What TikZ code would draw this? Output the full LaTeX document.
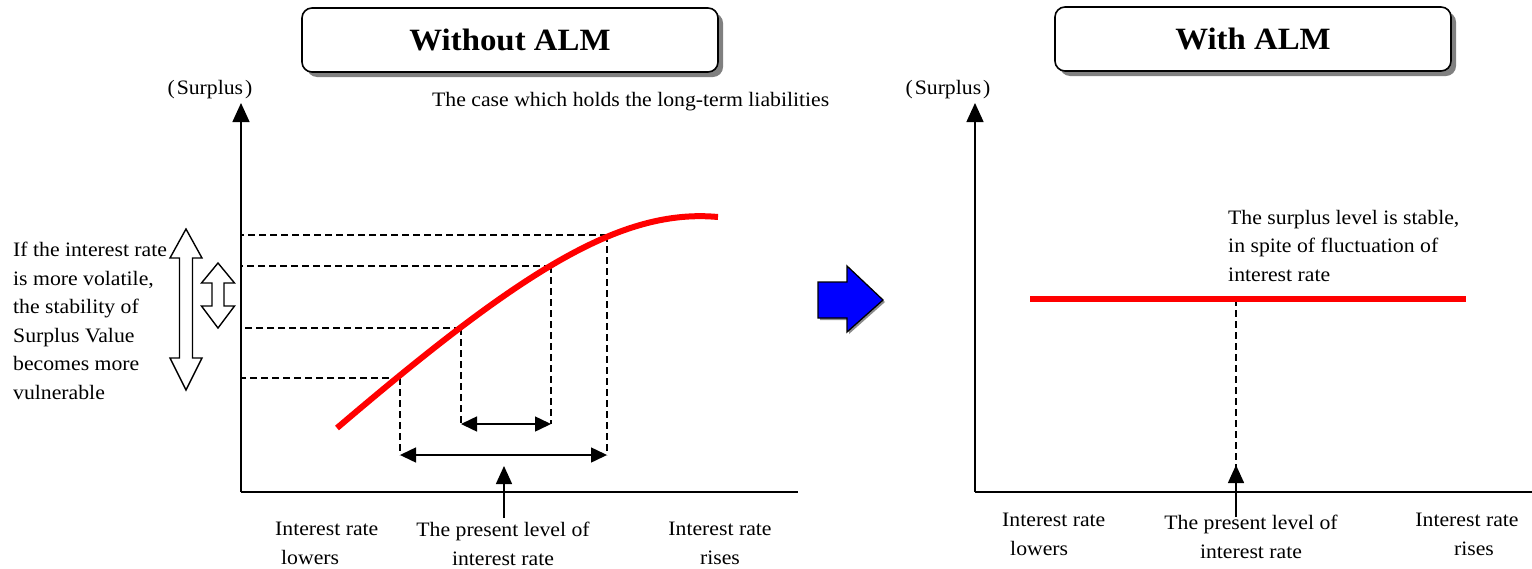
\documentclass[tikz,border=0pt]{standalone}
\usepackage{fontspec}
\setmainfont[FakeStretch=1.06]{Liberation Serif}
\usetikzlibrary{arrows.meta,shadows}

\tikzset{
  axis/.style={line width=1.5pt, -{Triangle[length=19pt,width=17pt]}},
  guide/.style={line width=1.3pt, dash pattern=on 7pt off 4pt},
  span/.style={line width=1.5pt, {Triangle[length=16pt,width=15pt]}-{Triangle[length=16pt,width=15pt]}},
  pointer/.style={line width=1.5pt, -{Triangle[length=18pt,width=16pt]}},
  surplus/.style={line width=6pt, red},
  hollow/.style={draw, line width=1.4pt, fill=white, line join=miter},
  titlebox/.style={draw, line width=1.6pt, rounded corners=10pt, fill=white,
    minimum height=64pt, font=\fontsize{31}{36}\selectfont\bfseries,
    drop shadow={shadow xshift=5pt, shadow yshift=-5pt, fill=black!50, opacity=1}},
  label/.style={font=\fontsize{20.5}{28.5}\selectfont, inner sep=0pt},
}

\begin{document}
\begin{tikzpicture}[x=1pt, y=-1pt]
\useasboundingbox (0,0) rectangle (1532,568);

% ---------- titles ----------
\node[titlebox, minimum width=416pt] (titleA) at (510,40) {Without ALM};
\node[titlebox, minimum width=396pt] (titleB) at (1253,39) {With ALM};

% ---------- left chart: axes ----------
\coordinate (oA) at (241,492);
\coordinate (yA) at (241,103);
\coordinate (xA) at (798,492);
\draw[axis] (oA) -- (yA);
\draw[line width=1.5pt] (oA) -- (xA);
\node[label, anchor=base] (surA) at (210,94) {(\hspace{2pt}Surplus\hspace{2pt})};
\node[label, anchor=base west] (caseA) at (432,106) {The case which holds the long-term liabilities};

% surplus curve and the four marked points on it
\coordinate (cStart) at (337,428);
\coordinate (cEnd) at (718,217);
\coordinate (p1) at (400,378);
\coordinate (p2) at (461,328);
\coordinate (p3) at (551,266);
\coordinate (p4) at (607,235);

% guide lines to the axis and down to the spans
\foreach \p in {p1,p2,p3,p4} \draw[guide] (\p) -- (oA |- \p);
\coordinate (lowSpan) at (0,455);
\coordinate (highSpan) at (0,424);
\coordinate (s1) at (p1 |- lowSpan);
\coordinate (s4) at (p4 |- lowSpan);
\coordinate (s2) at (p2 |- highSpan);
\coordinate (s3) at (p3 |- highSpan);
\draw[guide] (p1) -- (s1);
\draw[guide] (p4) -- (s4);
\draw[guide] (p2) -- (s2);
\draw[guide] (p3) -- (s3);

\draw[surplus] (cStart) .. controls (520,272) and (620,208) .. (cEnd);

% interest-rate spans
\draw[span] (s2) -- (s3);
\draw[span] (s1) -- (s4);
\coordinate (nowA) at (504,518);
\coordinate (nowAtip) at (504,466);
\draw[pointer] (nowA) -- (nowAtip);

% volatility arrows (hollow double arrows)
\draw[hollow] (186,229) -- (202,258) -- (192.5,258) -- (192.5,358) -- (202,358)
  -- (186,390) -- (170,358) -- (179.5,358) -- (179.5,258) -- (170,258) -- cycle;
\draw[hollow] (218,263) -- (234.5,283) -- (224,283) -- (224,306) -- (234.5,306)
  -- (218,328) -- (201.5,306) -- (212,306) -- (212,283) -- (201.5,283) -- cycle;

\node[label, anchor=north west, align=left] (noteA) at (13,242)
  {If the interest rate\\is more volatile,\\the stability of\\Surplus Value\\becomes more\\vulnerable};

% axis labels, left
\node[label, anchor=north west, align=left] (lowA) at (275,522) {Interest rate\\\hspace{6pt}lowers};
\node[label, anchor=north, align=center] (presA) at (503,522) {The present level of\\interest rate\hspace{14pt}};
\node[label, anchor=north, align=center] (riseA) at (720,522) {Interest rate\\rises\hspace{6pt}};

% ---------- transition arrow ----------
\fill[black!45] (820,284) -- (849,284) -- (849,268) -- (885,302) -- (849,334) -- (849,320) -- (820,320) -- cycle;
\draw[line width=1.3pt, fill={rgb,255:red,0;green,0;blue,255}, line join=miter]
  (818,282) -- (847,282) -- (847,266) -- (883,300) -- (847,332) -- (847,318) -- (818,318) -- cycle;

% ---------- right chart ----------
\coordinate (oB) at (975,492);
\coordinate (yB) at (975,103);
\coordinate (xB) at (1532,492);
\draw[axis] (oB) -- (yB);
\draw[line width=1.5pt] (oB) -- (xB);
\node[label, anchor=base] (surB) at (948,94) {(\hspace{2pt}Surplus\hspace{2pt})};

\coordinate (fl) at (1030,299);
\coordinate (fr) at (1466,299);
\coordinate (pB) at (1236,299);
\coordinate (sB) at (1236,470);
\draw[guide] (pB) -- (sB);
\draw[surplus] (fl) -- (fr);
\coordinate (nowB) at (1236,517);
\coordinate (nowBtip) at (1236,465);
\draw[pointer] (nowB) -- (nowBtip);

\node[label, anchor=north west, align=left] (noteB) at (1228,210)
  {The surplus level is stable,\\in spite of fluctuation of\\interest rate};

\node[label, anchor=north west, align=left] (lowB) at (1002,513) {Interest rate\\\hspace{8pt}lowers};
\node[label, anchor=north, align=center] (presB) at (1251,515) {The present level of\\interest rate};
\node[label, anchor=north, align=center] (riseB) at (1467,513) {Interest rate\\\hspace{14pt}rises};
\end{tikzpicture}
\end{document}
